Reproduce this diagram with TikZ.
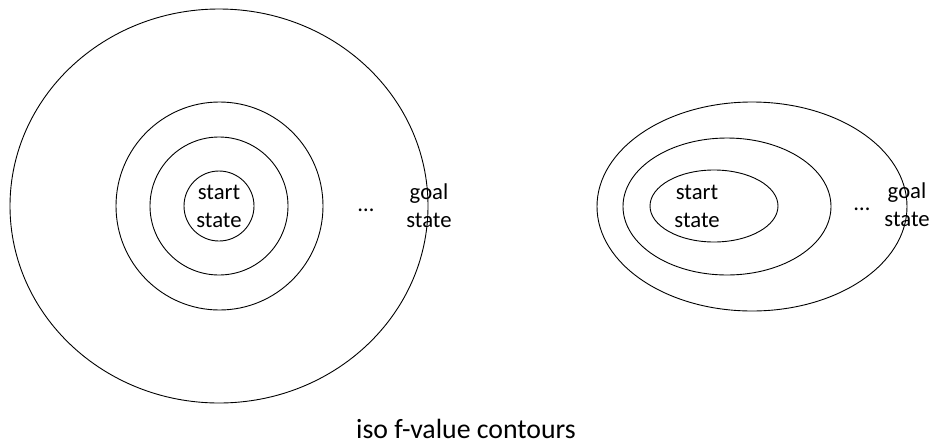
\documentclass[tikz,border=0pt]{standalone}
\usepackage{fontspec}
\setmainfont{Carlito}
\begin{document}
\begin{tikzpicture}[x=1pt,y=-1pt,
  contour/.style={draw=black,line width=0.9pt},
  lbl/.style={align=center,inner sep=0pt,font=\fontsize{22.7}{28}\selectfont},
  dots/.style={anchor=base,inner sep=0pt,font=\fontsize{22.7}{28}\selectfont}]
\useasboundingbox (0,0) rectangle (932,445);
% left: circular contours around the start state
\draw[contour] (219,206) ellipse [x radius=209,y radius=197];
\draw[contour] (219.5,206) ellipse [x radius=103.5,y radius=104];
\draw[contour] (219,206) ellipse [x radius=69,y radius=69];
\draw[contour] (219,206) ellipse [x radius=35,y radius=35];
\node[lbl] (startL) at (219,206) {start\\state};
\node[dots] (dotsL) at (366,211) {…};
\node[lbl] (goalL) at (429,206) {goal\\state};
% right: elongated contours towards the goal
\draw[contour] (752,206.5) ellipse [x radius=155,y radius=104.5];
\draw[contour] (727,206.5) ellipse [x radius=104,y radius=68.5];
\draw[contour] (714,206) ellipse [x radius=64,y radius=36];
\node[lbl] (startR) at (697,206) {start\\state};
\node[dots] (dotsR) at (862,210) {…};
\node[lbl] (goalR) at (907,205) {goal\\state};
% caption
\node[anchor=base,inner sep=0pt,font=\fontsize{27.8}{33}\selectfont] (cap) at (466,438) {iso f-value contours};
\end{tikzpicture}
\end{document}
